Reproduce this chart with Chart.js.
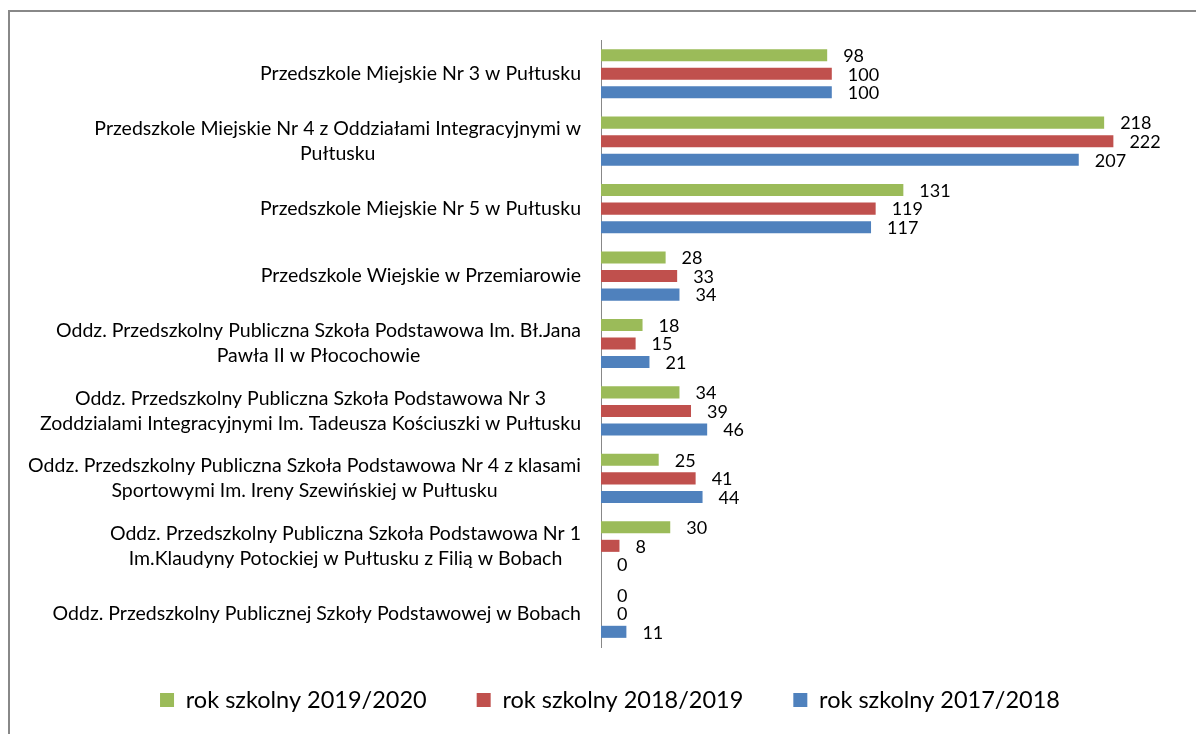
<!DOCTYPE html>
<html>
<head>
<meta charset="utf-8">
<script src="https://cdn.jsdelivr.net/npm/chart.js@4.4.0/dist/chart.umd.min.js"></script>
<style>
html,body{margin:0;padding:0;background:#fff;}
#wrap{position:absolute;left:0;top:0;width:1196px;height:734px;}
</style>
</head>
<body>
<div id="wrap"><canvas id="c" width="1196" height="734"></canvas></div>
<script>
const categories = [
  "Przedszkole Miejskie Nr 3 w Pułtusku",
  ["Przedszkole Miejskie Nr 4 z Oddziałami Integracyjnymi w", "Pułtusku"],
  "Przedszkole Miejskie Nr 5 w Pułtusku",
  "Przedszkole Wiejskie w Przemiarowie",
  ["Oddz. Przedszkolny Publiczna Szkoła Podstawowa Im. Bł.Jana", "Pawła II w Płocochowie"],
  ["Oddz. Przedszkolny Publiczna Szkoła Podstawowa Nr 3", "Zoddzialami Integracyjnymi Im. Tadeusza Kościuszki w Pułtusku"],
  ["Oddz. Przedszkolny Publiczna Szkoła Podstawowa Nr 4 z klasami", "Sportowymi Im. Ireny Szewińskiej w Pułtusku"],
  ["Oddz. Przedszkolny Publiczna Szkoła Podstawowa Nr 1", "Im.Klaudyny Potockiej w Pułtusku z Filią w Bobach"],
  "Oddz. Przedszkolny Publicznej Szkoły Podstawowej w Bobach"
];
const seriesNames = ["rok szkolny 2019/2020", "rok szkolny 2018/2019", "rok szkolny 2017/2018"];
const values2019_2020 = [98, 218, 131, 28, 18, 34, 25, 30, 0];
const values2018_2019 = [100, 222, 119, 33, 15, 39, 41, 8, 0];
const values2017_2018 = [100, 207, 117, 34, 21, 46, 44, 0, 11];
const colors = ["#9BBB59", "#C0504D", "#4F81BD"];

const FONT = "Lato";
const LABEL_SIZE = 19.5;
const LABEL_LINE = 25;
const VALUE_SIZE = 18;
const PAD_LEFT = 42;

const frame = {
  id: 'frame',
  beforeDraw(chart) {
    const ctx = chart.ctx;
    ctx.save();
    ctx.fillStyle = '#fff';
    ctx.fillRect(0, 0, chart.width, chart.height);
    ctx.fillStyle = '#888888';
    ctx.fillRect(8, 10, chart.width - 8, 2);
    ctx.fillRect(8, 10, 2, chart.height - 10);
    ctx.restore();
  }
};

const catLabels = {
  id: 'catLabels',
  afterDraw(chart) {
    const ctx = chart.ctx;
    const y = chart.scales.y;
    const right = chart.chartArea.left - 20;
    ctx.save();
    ctx.font = LABEL_SIZE + "px " + FONT;
    ctx.fillStyle = '#000';
    ctx.textBaseline = 'middle';
    ctx.textAlign = 'center';
    categories.forEach((lab, i) => {
      const lines = Array.isArray(lab) ? lab : [lab];
      const w = Math.max(...lines.map(l => ctx.measureText(l).width));
      const cx = right - w / 2;
      const cy = y.getPixelForValue(i);
      const y0 = cy - (lines.length - 1) * LABEL_LINE / 2;
      lines.forEach((l, k) => ctx.fillText(l, cx, y0 + k * LABEL_LINE));
    });
    ctx.restore();
  }
};

const valueLabels = {
  id: 'valueLabels',
  afterDatasetsDraw(chart) {
    const ctx = chart.ctx;
    ctx.save();
    ctx.font = VALUE_SIZE + "px " + FONT;
    ctx.fillStyle = '#000';
    ctx.textBaseline = 'middle';
    ctx.textAlign = 'left';
    chart.data.datasets.forEach((ds, di) => {
      const meta = chart.getDatasetMeta(di);
      meta.data.forEach((el, i) => {
        ctx.fillText(String(ds.data[i]), el.x + 16, el.y + 1);
      });
    });
    ctx.restore();
  }
};

new Chart(document.getElementById('c'), {
  type: 'bar',
  data: {
    labels: categories,
    datasets: [
      { label: seriesNames[0], data: values2019_2020, backgroundColor: colors[0] },
      { label: seriesNames[1], data: values2018_2019, backgroundColor: colors[1] },
      { label: seriesNames[2], data: values2017_2018, backgroundColor: colors[2] }
    ]
  },
  options: {
    indexAxis: 'y',
    responsive: false,
    animation: false,
    devicePixelRatio: 1,
    categoryPercentage: 0.825,
    barPercentage: 0.65,
    layout: { padding: { left: PAD_LEFT, right: 18, top: 40, bottom: 12.25 } },
    scales: {
      x: { display: false, min: 0, max: 250 },
      y: {
        ticks: { display: false },
        grid: { display: false, drawTicks: false },
        border: { display: true, color: '#888888', width: 1 },
        afterFit(scale) { scale.width = 601 - PAD_LEFT; }
      }
    },
    plugins: {
      legend: {
        position: 'bottom',
        title: { display: true, text: '', font: { size: 10, lineHeight: 1 }, padding: { top: -18.75, bottom: 0 } },
        labels: {
          boxWidth: 14, boxHeight: 14, padding: 50,
          color: '#000',
          font: { family: FONT, size: 23.5 }
        }
      },
      tooltip: { enabled: false }
    }
  },
  plugins: [frame, catLabels, valueLabels]
});
</script>
</body>
</html>
